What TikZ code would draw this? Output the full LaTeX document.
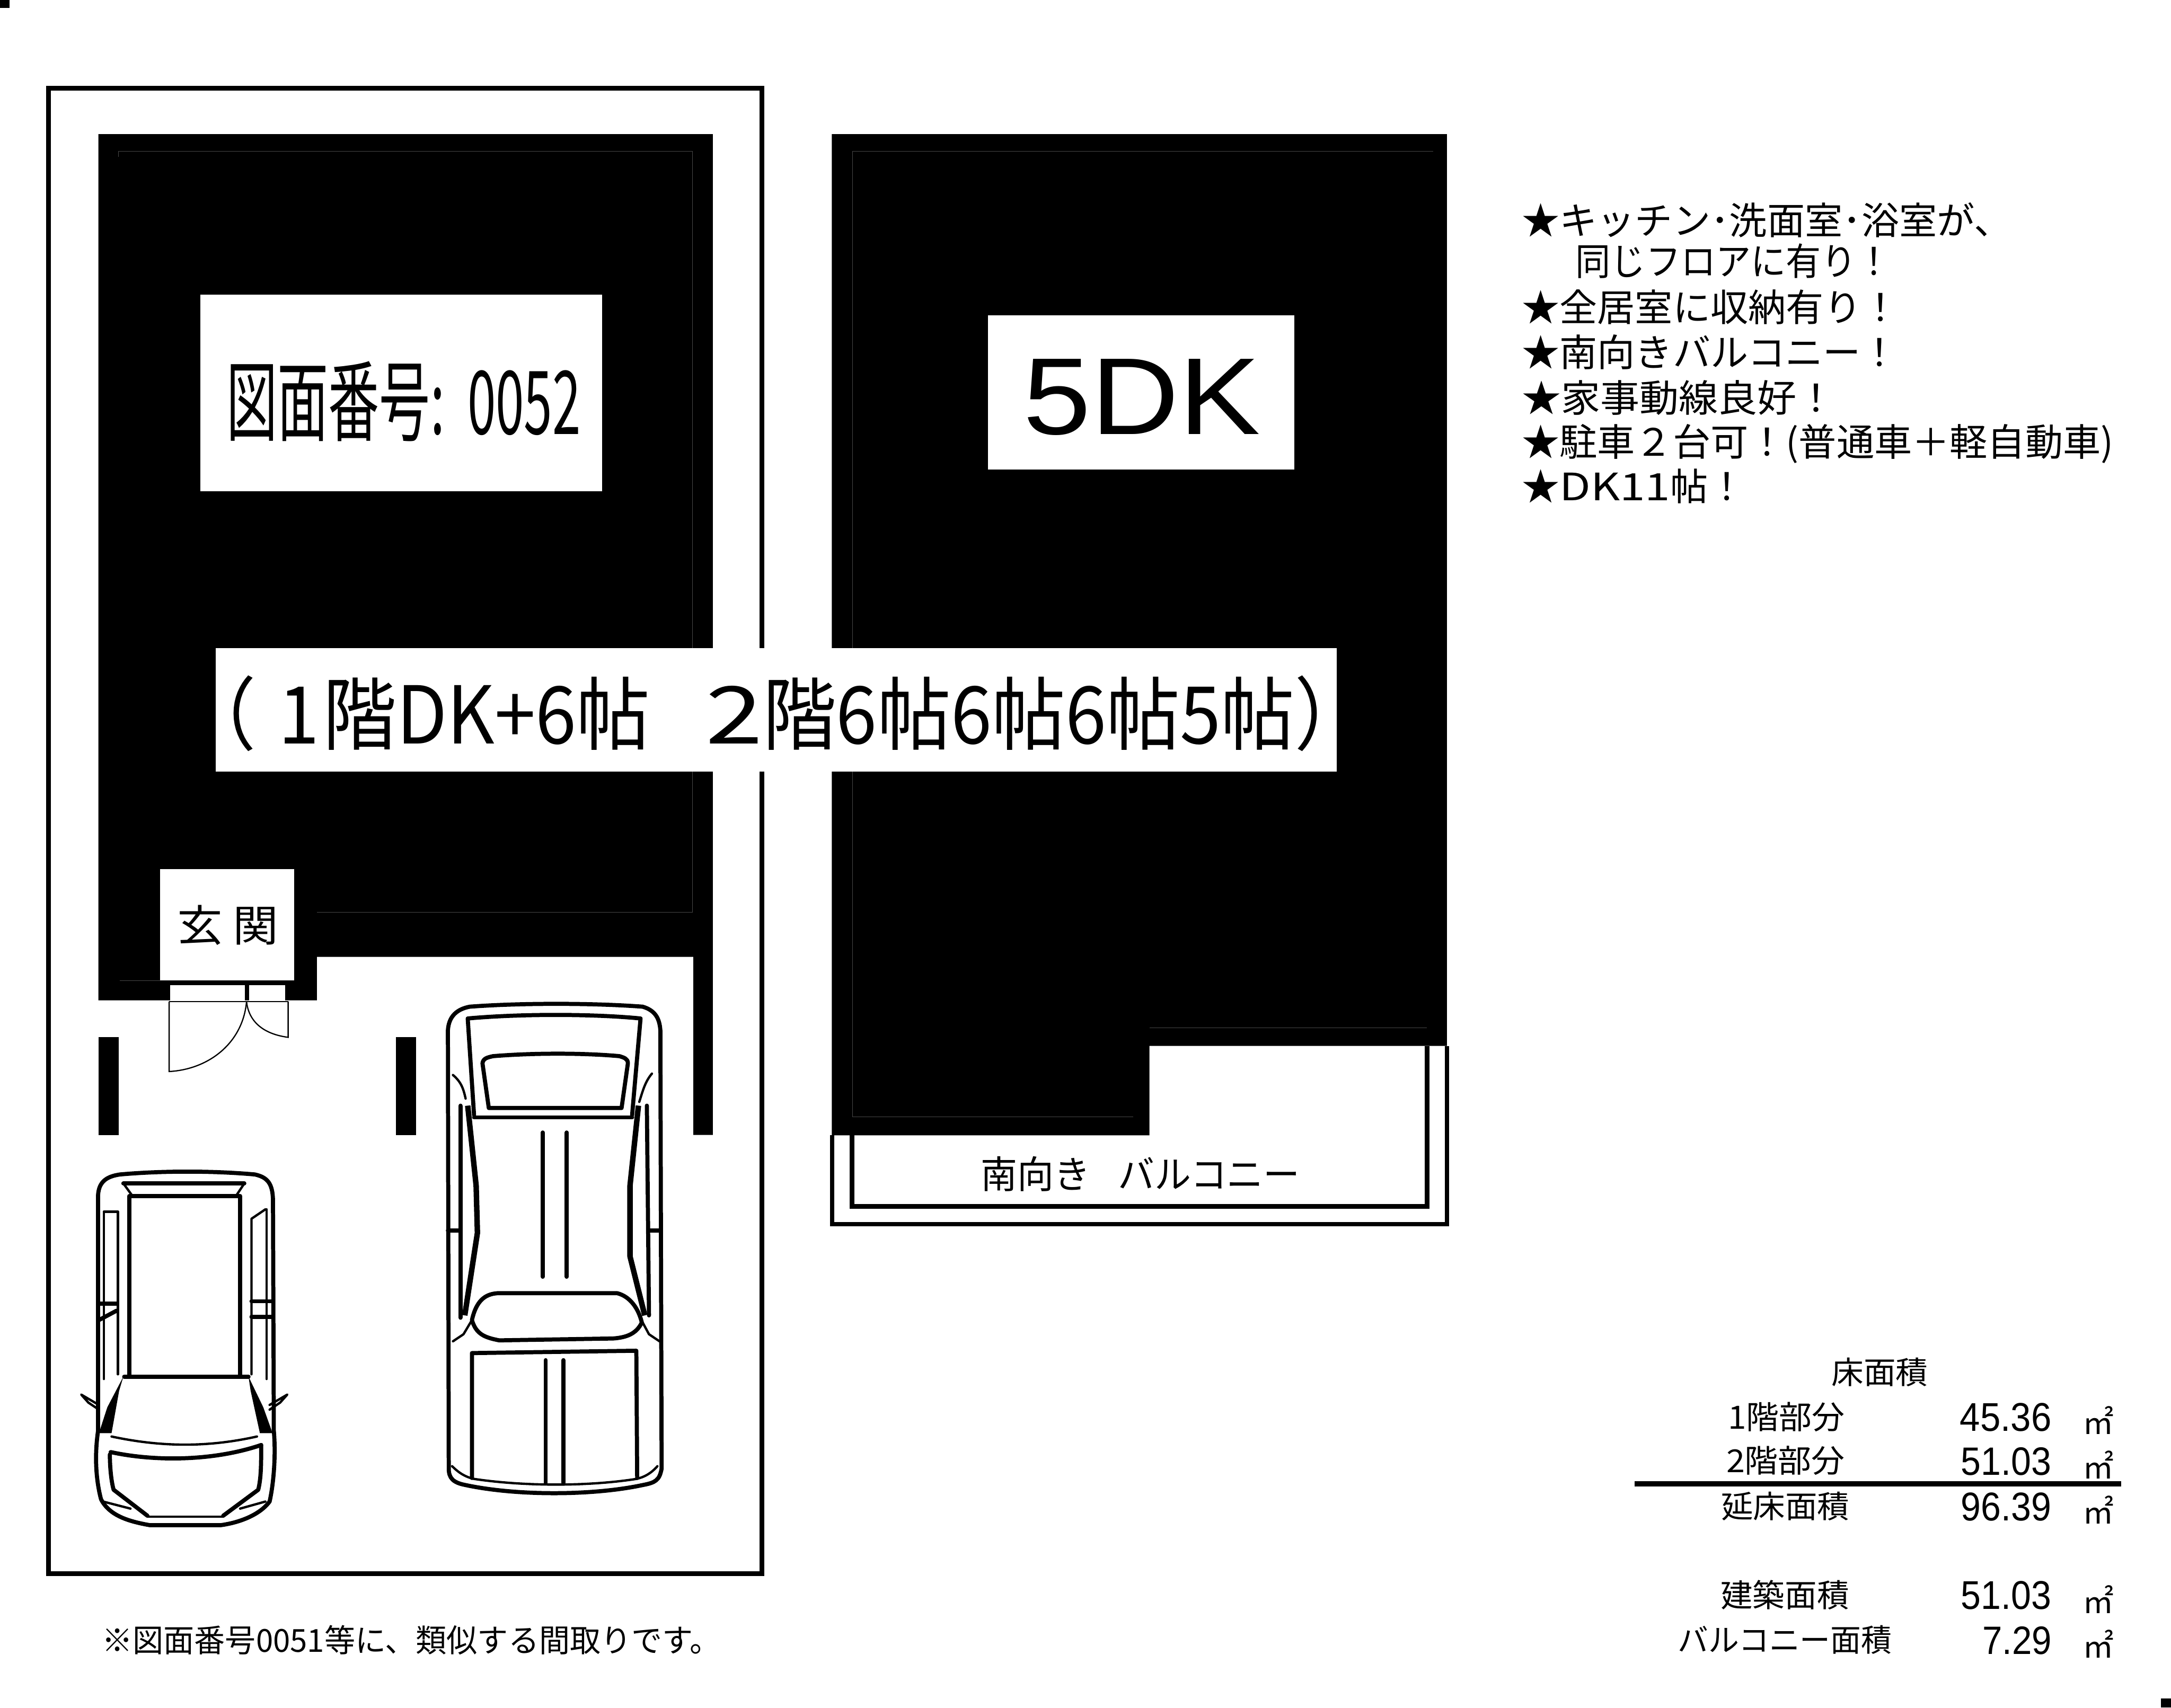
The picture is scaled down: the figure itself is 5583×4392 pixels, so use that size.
\documentclass[tikz,border=0pt]{standalone}
\usepackage{graphicx}
\usepackage{fontspec}
\setmainfont{Noto Sans CJK JP}
\newfontfamily\latinfont{Liberation Sans}
\newcommand{\fitbox}[3]{\resizebox*{#1cm}{#2cm}{#3}}
\tikzset{
    wall/.style={fill=black, draw=none},
    hole/.style={fill=white, draw=none},
    frameline/.style={draw=black, line width=3.4pt, miter limit=10},
    faint/.style={draw=black!72, line width=0.3pt},
    carthick/.style={draw=black, line width=3pt, line cap=round, line join=round},
    carthin/.style={draw=black, line width=1.7pt, line cap=round, line join=round},
    doorline/.style={draw=black, line width=0.9pt},
    listline/.style={anchor=west, inner sep=0pt, font=\fontsize{27.6pt}{27.6pt}\selectfont},
}
\begin{document}
\begin{tikzpicture}[x=0.01cm, y=-0.01cm]
    \useasboundingbox (0,0) rectangle (5583,4392);
    \fill[white] (0,0) rectangle (5583,4392);
    % corner marks
    \fill[wall] (0,0) rectangle (24,21);
    \fill[wall] (5557,4369) rectangle (5583,4392);
    % lot
    \draw[frameline] (125,227) rectangle (1959,4048);
    % left building
    \fill[wall] (253,345) -- (1833,345) -- (1833,2919) -- (1783,2919) -- (1783,2461)
        -- (815,2461) -- (815,2573) -- (253,2573) -- cycle;
    \fill[wall] (253,2667) rectangle (305,2919);
    \fill[wall] (1018,2667) rectangle (1070,2919);
    \draw[faint] (304,403) -- (304,389) -- (1781,389) -- (1781,2346) -- (815,2346);
    \draw[faint] (308,2522) -- (411,2522);
    % entrance
    \fill[hole] (411,2235) rectangle (757,2522);
    \fill[hole] (437,2534) rectangle (630,2573);
    \fill[hole] (640,2534) rectangle (733,2573);
    \draw[doorline] (435,2576) -- (741,2576);
    \draw[doorline] (435,2576) -- (435,2756) .. controls (540,2750) and (625,2680) .. (634,2576);
    \draw[doorline] (741,2576) -- (741,2668) .. controls (680,2660) and (640,2630) .. (634,2576);
    % right building
    \fill[wall] (2139,345) -- (3721,345) -- (3721,2690) -- (2956,2690) -- (2956,2920) -- (2139,2920) -- cycle;
    \draw[faint] (2192,2873) -- (2192,389) -- (3686,389);
    \draw[faint] (2956,2643) -- (3669,2643);
    \draw[faint] (2192,2873) -- (2914,2873);
    % balcony
    \draw[draw=black, line width=3.2pt] (2140,2919) -- (2140,3149) -- (3721,3149) -- (3721,2690);
    \draw[draw=black, line width=3.2pt] (2191,2919) -- (2191,3103) -- (3670,3103) -- (3670,2690);
    % cars
    \begin{scope}[x=0.01084cm, y=-0.01212cm, shift={(2cm,-22cm)}]
        % small car
        \draw[carthick] (48,1220) -- (48,720) .. controls (50,690) and (70,680) .. (100,676)
            .. controls (200,668) and (320,668) .. (420,676) .. controls (450,682) and (462,695) .. (463,730)
            -- (465,1220) .. controls (470,1270) and (465,1330) .. (455,1370)
            .. controls (430,1400) and (380,1415) .. (340,1420) -- (170,1420)
            .. controls (120,1412) and (75,1400) .. (55,1365) .. controls (42,1320) and (40,1270) .. (48,1220);
        \draw[carthick] (122,1105) -- (122,722) -- (385,722) -- (385,1105);
        \draw[carthick] (108,695) -- (395,695);
        \draw[carthin] (108,695) -- (130,722) (395,695) -- (375,722);
        \draw[carthick] (110,1105) -- (405,1105);
        \draw[carthin] (62,755) -- (95,755) -- (95,1100);
        \draw[carthin] (62,755) -- (62,1110);
        \draw[carthin] (445,750) -- (412,770) -- (412,1100);
        \draw[carthin] (448,750) -- (448,1110);
        \draw[carthick] (50,950) -- (92,950) (50,985) -- (92,965);
        \draw[carthick] (412,945) -- (460,945) (412,978) -- (460,978);
        \fill (108,1105) -- (70,1170) -- (50,1225) -- (80,1225) -- (98,1135) -- cycle;
        \fill (405,1105) -- (440,1170) -- (462,1225) -- (432,1225) -- (410,1135) -- cycle;
        \draw[carthin] (80,1232) .. controls (200,1255) and (310,1255) .. (425,1232);
        \draw[carthick] (78,1265) .. controls (180,1285) and (320,1285) .. (435,1250);
        \draw[carthick] (76,1270) .. controls (76,1300) and (80,1330) .. (85,1345) -- (165,1400);
        \draw[carthick] (435,1250) .. controls (435,1290) and (435,1320) .. (428,1345) -- (345,1400);
        \draw[carthin] (60,1370) -- (125,1385) (445,1370) -- (385,1385);
        \draw[carthin] (165,1402) -- (345,1402);
        \draw[carthin] (50,1165) -- (8,1143) -- (25,1160) -- (50,1175);
        \draw[carthin] (455,1165) -- (497,1143) -- (480,1160) -- (455,1175);
        % large car
        \draw[carthick] (878,370) .. controls (880,340) and (900,325) .. (930,320)
            .. controls (1050,312) and (1220,312) .. (1340,320) .. controls (1370,328) and (1380,345) .. (1382,370)
            -- (1385,1300) .. controls (1380,1325) and (1370,1330) .. (1340,1335)
            .. controls (1220,1358) and (1040,1358) .. (920,1335) .. controls (890,1330) and (880,1320) .. (880,1300) -- cycle;
        \draw[carthick] (940,550) -- (925,345) .. controls (1050,335) and (1220,335) .. (1335,345) -- (1315,550);
        \draw[carthick] (975,535) -- (960,440) .. controls (962,430) and (970,428) .. (985,425)
            .. controls (1080,418) and (1200,418) .. (1285,425) .. controls (1295,428) and (1305,430) .. (1305,440)
            -- (1290,535) -- cycle;
        \draw[carthick] (940,555) -- (1315,555);
        \draw[carthick] (1103,587) -- (1103,893) (1160,587) -- (1160,893);
        \draw[draw=black, line width=4pt, line join=round] (925,530) -- (945,700) -- (948,800) -- (918,975);
        \draw[draw=black, line width=4pt, line join=round] (1330,530) -- (1310,700) -- (1310,850) -- (1345,975);
        \draw[carthick] (908,530) -- (908,980) (1350,530) -- (1355,975);
        \draw[carthick] (878,795) -- (908,795) (1355,795) -- (1382,795);
        \draw[carthin] (890,465) .. controls (910,480) and (915,495) .. (920,515);
        \draw[carthin] (1362,462) .. controls (1345,480) and (1340,500) .. (1332,522);
        \draw[carthick] (935,985) .. controls (945,945) and (965,930) .. (995,928)
            -- (1280,928) .. controls (1310,935) and (1330,960) .. (1338,990)
            .. controls (1325,1015) and (1300,1022) .. (1270,1024)
            -- (1000,1028) .. controls (965,1022) and (945,1015) .. (935,985);
        \draw[carthin] (935,985) -- (915,1015) -- (890,1030);
        \draw[carthin] (1340,990) -- (1355,1015) -- (1380,1030);
        \draw[carthick] (935,1320) -- (935,1055) -- (1325,1050) -- (1327,1320);
        \draw[carthick] (1110,1070) -- (1110,1330) (1152,1070) -- (1152,1330);
        \draw[carthin] (888,1295) .. controls (905,1310) and (920,1318) .. (940,1322)
            .. controls (1060,1338) and (1210,1338) .. (1325,1322) .. controls (1345,1318) and (1360,1310) .. (1375,1295);
    \end{scope}
    % white labels on the walls
    \begin{scope}
        \tikzstyle{every node}=[inner sep=0pt, text=black]
        \fill[hole] (515,758) rectangle (1548,1264);
        \fill[hole] (2541,811) rectangle (3329,1208);
        \fill[hole] (555,1667) rectangle (3438,1984);
        \node (drawingno) at (1038,1033) {\fitbox{9.1}{2.06}{図面番号:\kern.45em 0052}};
        \node (layout) at (2936,1022) {\fitbox{6.1}{1.96}{\latinfont 5DK}};
        \node (floors) at (1994,1835) {\fitbox{30.47}{1.95}{（\kern.3em 1\kern.05em 階DK+6帖\kern.75em\scalebox{1.4}[1]{2}階6帖6帖6帖5帖）}};
        \node (entrance) at (586,2379) {\fitbox{2.6}{1.03}{玄 関}};
        \node (balcony) at (2933,3020) {\fitbox{8.2}{0.90}{南向き\kern.75em バルコニー}};
        \node (note) at (1058,4218) {\fitbox{15.9}{0.76}{※図面番号0051等に、類似する間取りです。}};
    \end{scope}
    % selling points
    \begin{scope}
        \tikzstyle{every node}=[listline]
        \node (point1) at (3913,566) {★キッチン･洗面室･浴室が、};
        \node (point1b) at (4051,671) {\scalebox{0.93}[1]{同じフロアに有り！}};
        \node (point2) at (3913,790) {★全居室に収納有り！};
        \node (point3) at (3913,905) {★南向きバルコニー！};
        \node (point4) at (3913,1023) {\scalebox{1.04}[1]{★家事動線良好！}};
        \node (point5) at (3913,1142) {★駐車２台可！(普通車＋軽自動車)};
        \node (point6) at (3913,1250) {★\scalebox{1.2}[1]{DK11}帖！};
    \end{scope}
    % areas
    \begin{scope}
        \tikzstyle{every node}=[inner sep=0pt, text=black]
        \node (floorarea) at (4834,3529) {\fitbox{2.48}{0.74}{床面積}};
        \node (lab1) at (4594,3644) {\fitbox{3.0}{0.76}{1階部分}};
        \node (lab2) at (4592,3757) {\fitbox{3.05}{0.75}{2階部分}};
        \node (lab3) at (4591,3874) {\fitbox{3.3}{0.74}{延床面積}};
        \node (lab4) at (4590,4102) {\fitbox{3.3}{0.76}{建築面積}};
        \node (lab5) at (4590,4218) {\fitbox{5.5}{0.74}{バルコニー面積}};
        \node (val1) at (5158,3645) {\fitbox{2.35}{0.73}{\latinfont 45.36}};
        \node (val2) at (5159,3759) {\fitbox{2.32}{0.72}{\latinfont 51.03}};
        \node (val3) at (5159,3875) {\fitbox{2.32}{0.73}{\latinfont 96.39}};
        \node (val4) at (5159,4103) {\fitbox{2.32}{0.73}{\latinfont 51.03}};
        \node (val5) at (5187,4219) {\fitbox{1.78}{0.72}{\latinfont 7.29}};
        \node (unit1) at (5396,3653) {\fitbox{0.8}{0.72}{㎡}};
        \node (unit2) at (5396,3768) {\fitbox{0.8}{0.72}{㎡}};
        \node (unit3) at (5396,3884) {\fitbox{0.8}{0.72}{㎡}};
        \node (unit4) at (5396,4114) {\fitbox{0.8}{0.72}{㎡}};
        \node (unit5) at (5396,4228) {\fitbox{0.8}{0.72}{㎡}};
    \end{scope}
    \fill[wall] (4204,3810) rectangle (5455,3823);
\end{tikzpicture}
\end{document}
